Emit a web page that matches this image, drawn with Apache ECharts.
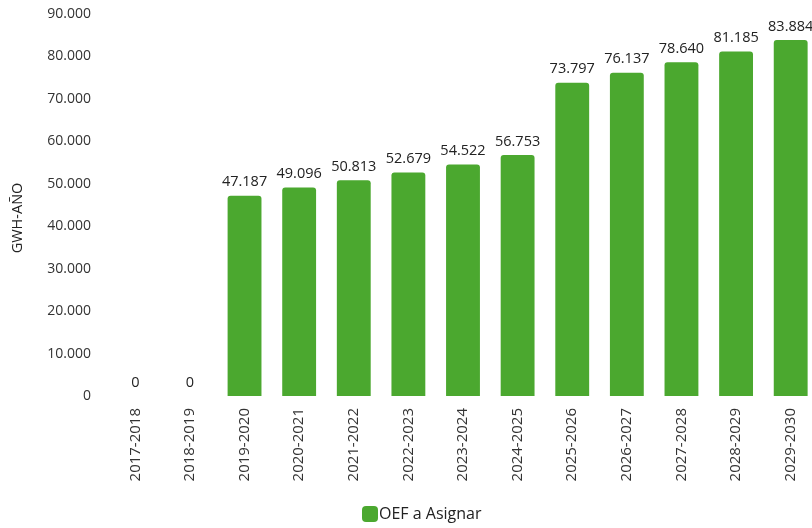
<!DOCTYPE html>
<html>
<head>
<meta charset="utf-8">
<script src="https://cdn.jsdelivr.net/npm/echarts@6/dist/echarts.min.js"></script>
<style>
  html, body { margin: 0; padding: 0; background: #ffffff; }
  #chart { width: 812px; height: 528px; }
</style>
</head>
<body>
<div id="chart"></div>
<script>
// Periods (fiscal years) on the category axis
const periods = ['2017-2018', '2018-2019', '2019-2020', '2020-2021', '2021-2022', '2022-2023',
  '2023-2024', '2024-2025', '2025-2026', '2026-2027', '2027-2028', '2028-2029', '2029-2030'];
// Firm energy to be assigned, GWh per year
const oefValues = [0, 0, 47187, 49096, 50813, 52679, 54522, 56753, 73797, 76137, 78640, 81185, 83884];
const seriesName = 'OEF a Asignar';
const yAxisName = 'GWH-AÑO';

const FONT = '"Open Sans", "Noto Sans", sans-serif';

// Spanish-style thousands separator: 47187 -> 47.187
function fmt(v) {
  return String(Math.round(v)).replace(/\B(?=(\d{3})+(?!\d))/g, '.');
}

const chart = echarts.init(document.getElementById('chart'), null, { renderer: 'canvas' });
chart.setOption({
  backgroundColor: '#ffffff',
  animation: false,
  textStyle: { fontFamily: FONT },
  grid: { left: 108, right: -6, top: 14, bottom: 132, containLabel: false, outerBoundsMode: 'none' },
  legend: {
    data: [seriesName],
    left: 357,
    bottom: 1,
    itemWidth: 16,
    itemHeight: 16,
    icon: 'roundRect',
    textStyle: { fontFamily: FONT, fontSize: 16, color: '#222222', padding: [0, 0, 0, -4] }
  },
  xAxis: {
    type: 'category',
    data: periods,
    axisLine: { show: false },
    axisTick: { show: false },
    axisLabel: {
      rotate: 90,
      margin: 12,
      interval: 0,
      fontFamily: FONT,
      fontSize: 15,
      color: '#333333'
    }
  },
  yAxis: {
    type: 'value',
    min: 0,
    max: 90000,
    interval: 10000,
    name: yAxisName,
    nameLocation: 'middle',
    nameRotate: 90,
    nameGap: 83,
    nameTextStyle: { fontFamily: FONT, fontSize: 14.5, color: '#222222', padding: [0, 26, 0, 0] },
    axisLine: { show: false },
    axisTick: { show: false },
    splitLine: { show: false },
    axisLabel: {
      margin: 17,
      fontFamily: FONT,
      fontSize: 14,
      color: '#333333',
      formatter: fmt
    }
  },
  series: [{
    name: seriesName,
    type: 'bar',
    data: oefValues,
    barWidth: '62%',
    itemStyle: { color: '#4ba82f', borderRadius: [3, 3, 0, 0] },
    label: {
      show: true,
      position: 'top',
      distance: 6,
      fontFamily: FONT,
      fontSize: 14.5,
      fontWeight: 500,
      color: '#222222',
      formatter: p => fmt(p.value)
    }
  }]
});
</script>
</body>
</html>
